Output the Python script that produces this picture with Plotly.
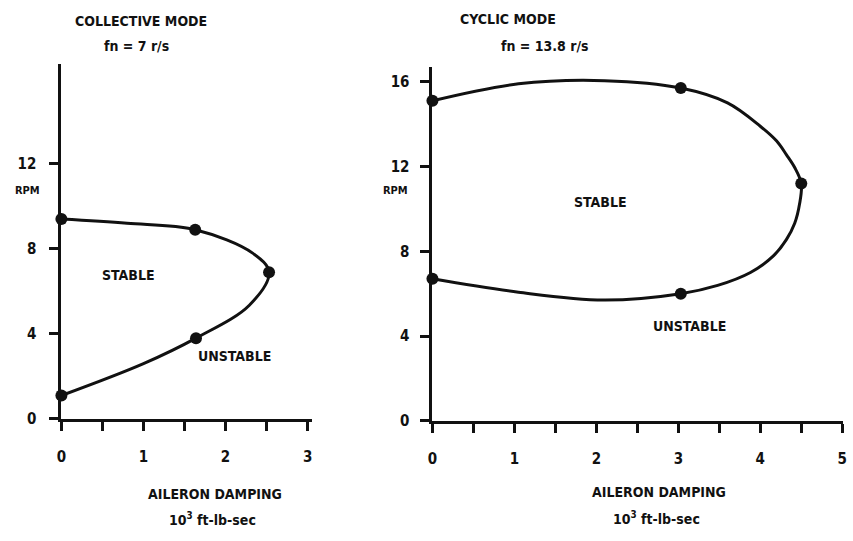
import plotly.graph_objects as go

# collective mode (left panel)
collective_curve_x = [0, 0.8, 1.63, 2.33, 2.53, 2.29, 1.64, 1.0, 0]
collective_curve_y = [9.4, 9.2, 8.9, 7.8, 6.9, 5.35, 3.8, 2.6, 1.1]
collective_pts_x = [0, 1.63, 2.53, 1.64, 0]
collective_pts_y = [9.4, 8.9, 6.9, 3.8, 1.1]

# cyclic mode (right panel)
cyclic_curve_x = [0, 1.05, 2.1, 3.03, 3.6, 4.0, 4.2, 4.32, 4.42, 4.5, 4.48, 4.42, 4.32, 4.16, 3.88, 3.48, 3.03, 2.09, 1.05, 0]
cyclic_curve_y = [15.1, 15.9, 16.05, 15.7, 15.0, 13.9, 13.2, 12.55, 11.95, 11.2, 10.25, 9.32, 8.56, 7.78, 7.0, 6.39, 6.0, 5.7, 6.07, 6.7]
cyclic_pts_x = [0, 3.03, 4.5, 3.03, 0]
cyclic_pts_y = [15.1, 15.7, 11.2, 6.0, 6.7]

left_yticks = [0, 4, 8, 12]
right_yticks = [0, 4, 8, 12, 16]
left_xticks = [0, 1, 2, 3]
right_xticks = [0, 1, 2, 3, 4, 5]

W, H = 853, 541
INK = "#111111"
FONT = "DejaVu Sans Condensed"


def px_x(p):
    return p / W


def px_y(p):
    return 1 - p / H


fig = go.Figure()
for cx, cy, ptx, pty, xa, ya in [
    (collective_curve_x, collective_curve_y, collective_pts_x, collective_pts_y, "x", "y"),
    (cyclic_curve_x, cyclic_curve_y, cyclic_pts_x, cyclic_pts_y, "x2", "y2"),
]:
    fig.add_trace(go.Scatter(x=cx, y=cy, mode="lines", line=dict(color=INK, width=3, shape="spline", smoothing=1.0),
                             xaxis=xa, yaxis=ya, cliponaxis=False, showlegend=False, hoverinfo="skip"))
    fig.add_trace(go.Scatter(x=ptx, y=pty, mode="markers", marker=dict(color=INK, size=12),
                             xaxis=xa, yaxis=ya, cliponaxis=False, showlegend=False))

axis_common = dict(showgrid=False, zeroline=False, showline=True, linecolor=INK, linewidth=3,
                   ticks="outside", ticklen=9, tickwidth=3, tickcolor=INK, ticklabeloverflow="allow",
                   tickfont=dict(family=FONT, size=15, color=INK, weight="bold"), fixedrange=True)
minor_ticks = dict(dtick=0.5, ticks="outside", ticklen=9, tickwidth=3, tickcolor=INK)

fig.update_layout(
    width=W, height=H,
    paper_bgcolor="white", plot_bgcolor="white",
    margin=dict(l=0, r=0, t=0, b=0),
    xaxis=dict(axis_common, domain=[px_x(57), px_x(310)], range=[0, 3.05], tickvals=left_xticks,
               minor=minor_ticks, anchor="y", ticklabelstandoff=13),
    yaxis=dict(axis_common, domain=[px_y(426), px_y(65)], range=[0, 16.7], tickvals=left_yticks,
               anchor="x", ticklabelstandoff=10),
    xaxis2=dict(axis_common, domain=[px_x(432), px_x(847)], range=[0, 5.01], tickvals=right_xticks,
                minor=minor_ticks, anchor="y2", ticklabelstandoff=13),
    yaxis2=dict(axis_common, domain=[px_y(428), px_y(68)], range=[0, 16.7], tickvals=right_yticks,
                anchor="x2", ticklabelstandoff=8),
)

labels = [
    ("COLLECTIVE MODE", 137, 21, 14),
    ("fn = 7 r/s", 133, 47, 14),
    ("CYCLIC MODE", 508, 19, 14),
    ("fn = 13.8 r/s", 546, 47, 14),
    ("RPM", 23, 194, 11),
    ("RPM", 395, 194, 11),
    ("STABLE", 125, 280, 14),
    ("UNSTABLE", 232, 362, 14),
    ("STABLE", 602, 205, 14),
    ("UNSTABLE", 692, 332, 14),
    ("AILERON DAMPING", 212, 502, 14),
    ("AILERON DAMPING", 661, 500, 14),
    ("10<sup>3</sup> ft-lb-sec", 210, 528, 14),
    ("10<sup>3</sup> ft-lb-sec", 658, 527, 14),
]
for text, x, y, size in labels:
    fig.add_annotation(text=text, x=px_x(x), y=px_y(y), xref="paper", yref="paper",
                       xanchor="center", yanchor="middle", showarrow=False,
                       font=dict(family=FONT, size=size, color=INK, weight="bold"))

# page body has a default 8px margin that pushes the figure off the window
fig.write_html("out.html", config={"displayModeBar": False},
               post_script="document.body.style.margin = '0';")
